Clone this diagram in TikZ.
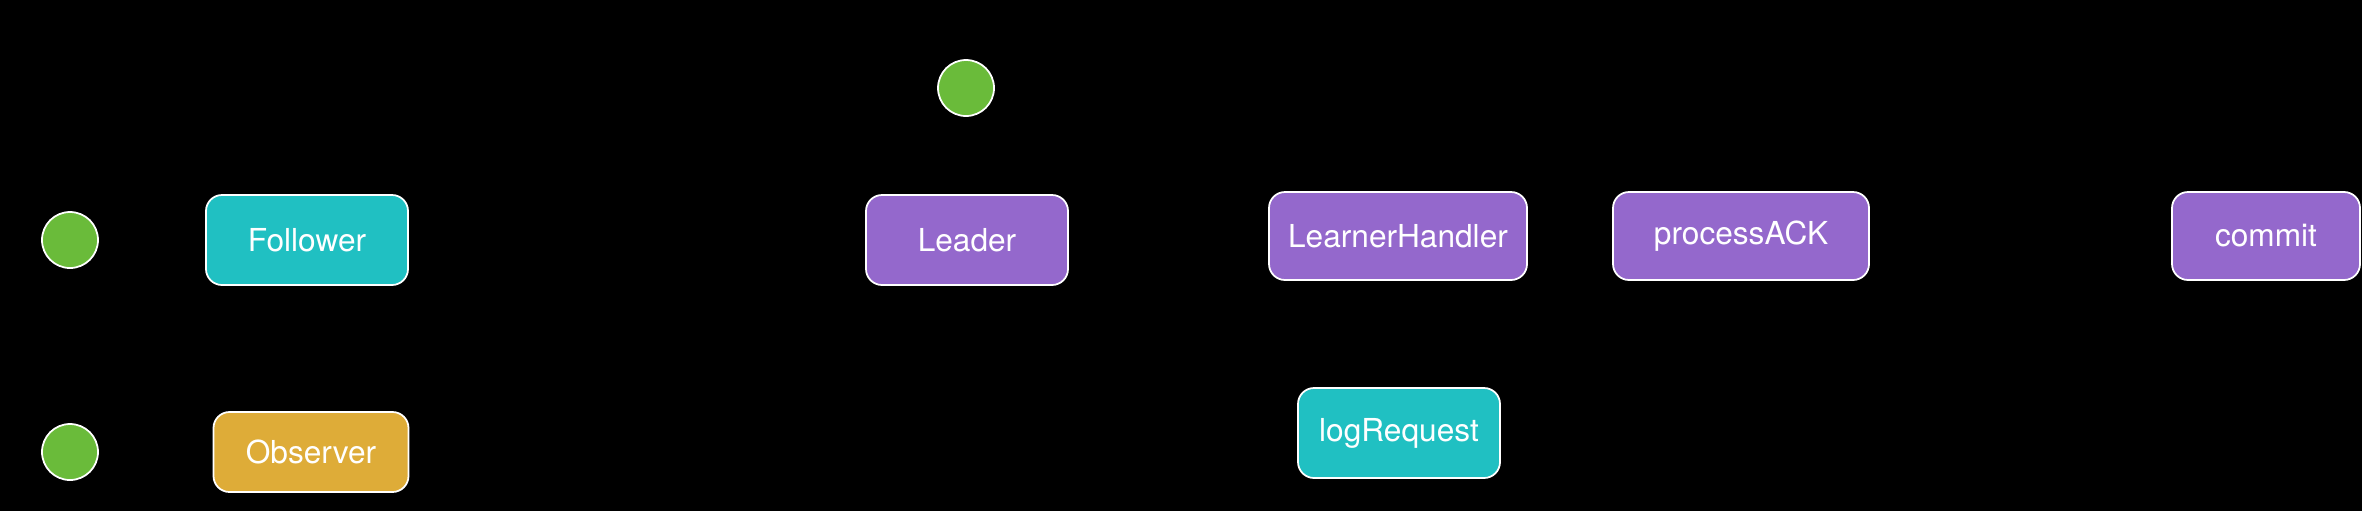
\documentclass[tikz,border=0pt]{standalone}
\usepackage{fontspec}
\setmainfont{TeX Gyre Heros}
\usepackage{xcolor}
\usetikzlibrary{positioning, backgrounds}
\definecolor{StateTeal}{RGB}{32,192,194}
\definecolor{StatePurple}{RGB}{148,104,204}
\definecolor{StateGold}{RGB}{222,172,56}
\definecolor{StartGreen}{RGB}{106,187,58}
\tikzset{
  % Stati
  state/.style={rectangle,rounded corners=1.6mm,draw=white,line width=0.5pt,
    text=white,font=\fontsize{9}{10}\selectfont,minimum height=9mm,inner sep=0pt},
  state leader/.style={state,fill=StatePurple},
  state learner/.style={state,fill=StateTeal},
  state observer/.style={state,fill=StateGold},
  % Nodo iniziale
  start/.style={circle,draw=white,line width=0.5pt,fill=StartGreen,minimum size=5.6mm,inner sep=0pt}
}

\begin{document}
\begin{tikzpicture}[x=0.1mm,y=-0.1mm]
        \useasboundingbox (0,0) rectangle (2362,510);
        \fill[black] (-20,-20) rectangle (2382,530);
        \node[start] (startF) at (70,240) {};
        \node[start] (startO) at (70,452) {};
        \node[start] (startL) at (966,88) {};
        \node[state learner,minimum width=20.2mm] (follower) at (307,240) {Follower};
        \node[state observer,minimum width=19.5mm,minimum height=8mm] (observer) at (311,452) {Observer};
        \node[state leader,minimum width=20.2mm] (leader) at (967,240) {Leader};
        \node[state leader,minimum width=25.8mm,minimum height=8.8mm] (handler) at (1398,236) {LearnerHandler};
        \node[state learner,minimum width=20.2mm] (logreq) at (1399,433) {logRequest};
        \node[state leader,minimum width=25.6mm,minimum height=8.8mm] (ack) at (1741,236) {processACK};
        \node[state leader,minimum width=18.8mm,minimum height=8.8mm] (commit) at (2266,236) {commit};
      \end{tikzpicture}
\end{document}
